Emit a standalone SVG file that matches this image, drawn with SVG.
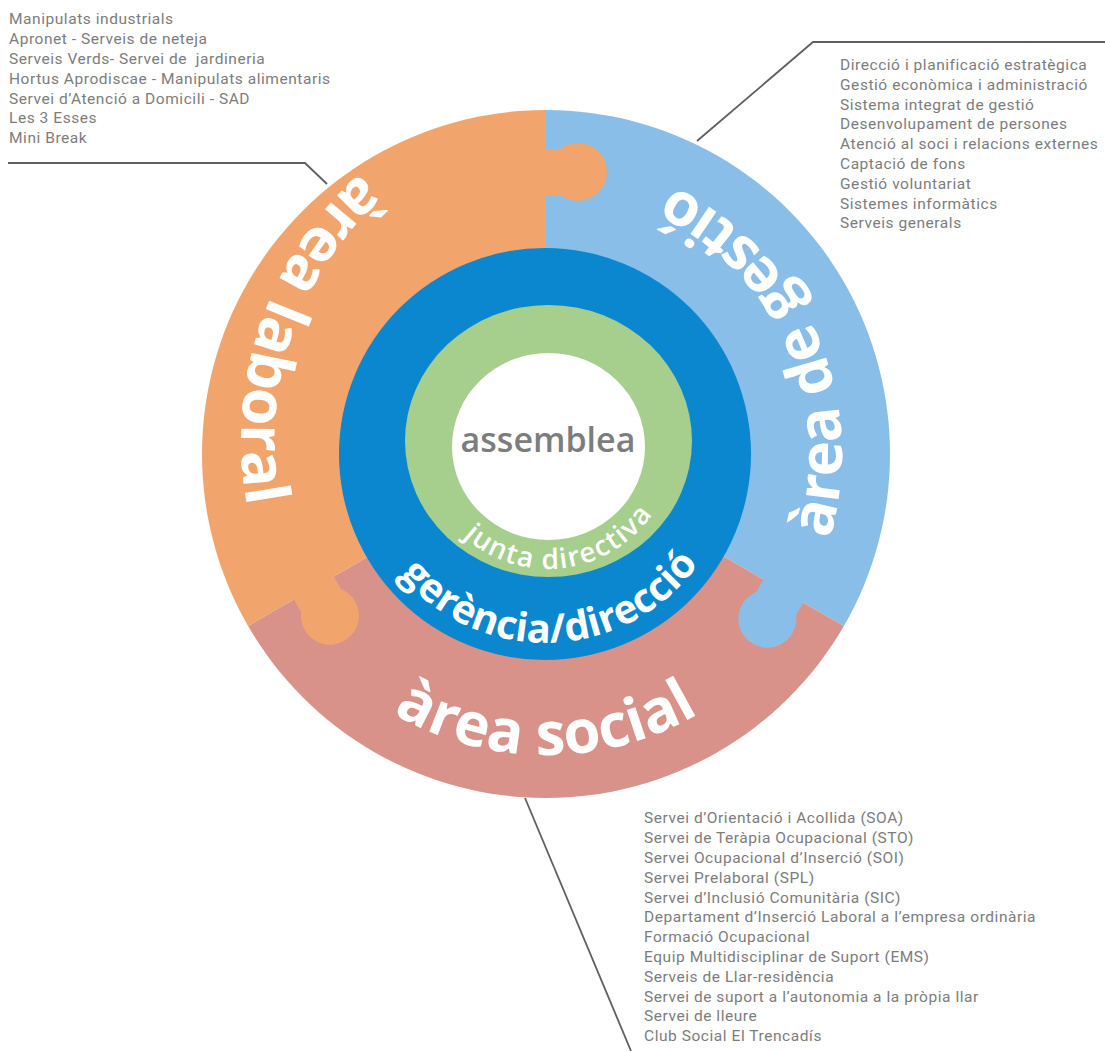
<svg xmlns="http://www.w3.org/2000/svg" xmlns:xlink="http://www.w3.org/1999/xlink" width="1105" height="1051" viewBox="0 0 1105 1051">
  <style>
    .list { font-family: Roboto, "Liberation Sans", sans-serif; font-size: 15.5px; fill: #7c7c7c; letter-spacing: 0.55px; }
    .big { font-family: "Open Sans", "Liberation Sans", sans-serif; font-weight: 700; fill: #ffffff; }
    .mid { font-family: "Open Sans", "Liberation Sans", sans-serif; font-weight: 600; fill: #ffffff; }
    .lead { fill: none; stroke: #5f5f5f; stroke-width: 1.8; }
    .orange { fill: #F1A46B; }
    .blue { fill: #89BEE8; }
    .pink { fill: #D8928A; }
  </style>
  <defs>
    <path id="arcLaboral" d="M772.4,125.1 A359,359 0 1 0 545.7,794.9"/>
    <path id="arcGestio" d="M617.6,741.2 A296,296 0 1 0 380.5,208.6"/>
    <path id="arcSocial" d="M249.6,401.7 A301,301 0 1 0 842.4,401.7"/>
    <path id="arcGerencia" d="M357.8,427.7 A189,189 0 1 0 729.9,414.7"/>
    <path id="arcJunta" d="M421.2,435.4 A127,127 0 1 0 669.5,404.9"/>
    <g id="knob">
      <rect x="-1" y="-23" width="34" height="46"/>
      <circle cx="32" cy="0" r="29"/>
    </g>
  </defs>
  <rect width="1105" height="1051" fill="#ffffff"/>

  <g id="connectors">
    <polyline class="lead" points="8,163 305,163 327,184"/>
    <polyline class="lead" points="1105,42 813,42 697,141"/>
    <polyline class="lead" points="525,798 631,1051"/>
  </g>

  <g id="node-laboral">
    <path class="orange" d="M546,454 L248.09,626 A344,344 0 0 1 546,110 Z"/>
  </g>
  <g id="node-gestio">
    <path class="blue" d="M546,454 L546,110 A344,344 0 0 1 843.91,626 Z"/>
  </g>
  <g id="node-social">
    <path class="pink" d="M546,454 L843.91,626 A344,344 0 0 1 248.09,626 Z"/>
  </g>
  <g id="knobs">
    <use xlink:href="#knob" class="orange" transform="translate(546,172)"/>
    <use xlink:href="#knob" class="blue" transform="translate(783.3,591) rotate(120)"/>
    <use xlink:href="#knob" class="orange" transform="translate(313.9,588) rotate(60)"/>
  </g>
  <g id="labels-outer">
    <text class="big" font-size="61"><textPath xlink:href="#arcLaboral" startOffset="50%" text-anchor="middle">àrea laboral</textPath></text>
    <text class="big" font-size="60"><textPath xlink:href="#arcGestio" startOffset="50%" text-anchor="middle">àrea de gestió</textPath></text>
    <text class="big" font-size="60"><textPath xlink:href="#arcSocial" startOffset="50%" text-anchor="middle">àrea social</textPath></text>
  </g>

  <g id="node-gerencia">
    <circle cx="545" cy="454" r="206" fill="#0A87CE"/>
    <text class="big" font-size="40"><textPath xlink:href="#arcGerencia" startOffset="50%" text-anchor="middle">gerència/direcció</textPath></text>
  </g>
  <g id="node-junta">
    <ellipse cx="548.5" cy="441" rx="143.5" ry="136" fill="#A6CE8C"/>
    <text class="mid" font-size="28" letter-spacing="1.4"><textPath xlink:href="#arcJunta" startOffset="50%" text-anchor="middle">junta directiva</textPath></text>
  </g>
  <g id="node-assemblea">
    <ellipse cx="548.5" cy="446.5" rx="96.5" ry="93.5" fill="#ffffff"/>
    <text x="548" y="452" text-anchor="middle" font-family="'Open Sans', 'Liberation Sans', sans-serif" font-weight="600" font-size="34" fill="#7d7d7d">assemblea</text>
  </g>

  <g id="list-laboral" class="list">
    <text x="9" y="24.3">Manipulats industrials</text>
    <text x="9" y="44.1">Apronet - Serveis de neteja</text>
    <text x="9" y="63.9" xml:space="preserve">Serveis Verds- Servei de  jardineria</text>
    <text x="9" y="83.7">Hortus Aprodiscae - Manipulats alimentaris</text>
    <text x="9" y="103.5">Servei d’Atenció a Domicili - SAD</text>
    <text x="9" y="123.3">Les 3 Esses</text>
    <text x="9" y="143.1">Mini Break</text>
  </g>
  <g id="list-gestio" class="list">
    <text x="840" y="70">Direcció i planificació estratègica</text>
    <text x="840" y="89.8">Gestió econòmica i administració</text>
    <text x="840" y="109.6">Sistema integrat de gestió</text>
    <text x="840" y="129.4">Desenvolupament de persones</text>
    <text x="840" y="149.2">Atenció al soci i relacions externes</text>
    <text x="840" y="169">Captació de fons</text>
    <text x="840" y="188.8">Gestió voluntariat</text>
    <text x="840" y="208.6">Sistemes informàtics</text>
    <text x="840" y="228.4">Serveis generals</text>
  </g>
  <g id="list-social" class="list">
    <text x="644" y="823.3">Servei d’Orientació i Acollida (SOA)</text>
    <text x="644" y="843.1">Servei de Teràpia Ocupacional (STO)</text>
    <text x="644" y="862.9">Servei Ocupacional d’Inserció (SOI)</text>
    <text x="644" y="882.7">Servei Prelaboral (SPL)</text>
    <text x="644" y="902.5">Servei d’Inclusió Comunitària (SIC)</text>
    <text x="644" y="922.3">Departament d’Inserció Laboral a l’empresa ordinària</text>
    <text x="644" y="942.1">Formació Ocupacional</text>
    <text x="644" y="961.9">Equip Multidisciplinar de Suport (EMS)</text>
    <text x="644" y="981.7">Serveis de Llar-residència</text>
    <text x="644" y="1001.5">Servei de suport a l’autonomia a la pròpia llar</text>
    <text x="644" y="1021.3">Servei de lleure</text>
    <text x="644" y="1041.1">Club Social El Trencadís</text>
  </g>
</svg>
